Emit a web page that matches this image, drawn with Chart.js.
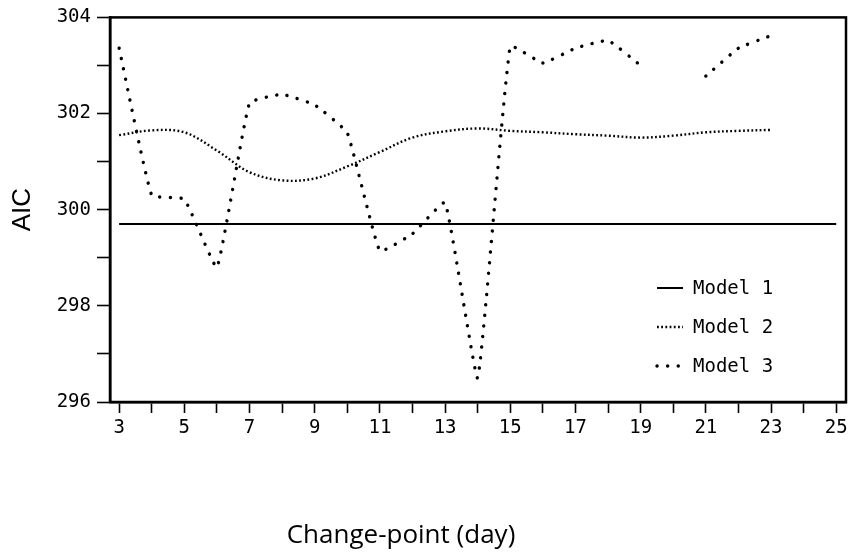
<!DOCTYPE html>
<html>
<head>
<meta charset="utf-8">
<style>
  html, body { margin: 0; padding: 0; background: #fff; }
  #wrap { width: 852px; height: 557px; }
</style>
<script src="https://cdn.jsdelivr.net/npm/chart.js@4.4.1/dist/chart.umd.min.js"></script>
</head>
<body>
<div id="wrap"><canvas id="c" width="852" height="557"></canvas></div>
<script>
// Change-point day (x) for the change-point models
const days = [3, 4, 5, 6, 7, 8, 9, 10, 11, 12, 13, 14, 15, 16, 17, 18, 19, 20, 21, 22, 23];

// Model 1 has no change point: one constant AIC over the whole range
const model1Days = [3, 25];
const model1 = [299.7, 299.7];

// AIC of Model 2 and Model 3 for each change-point day (null = not fitted)
const model2 = [301.55, 301.65, 301.61, 301.23, 300.78, 300.61, 300.65, 300.9, 301.2, 301.5, 301.63,
                301.69, 301.64, 301.61, 301.57, 301.54, 301.5, 301.54, 301.61, 301.64, 301.66];
const model3 = [303.36, 300.3, 300.22, 298.8, 302.22, 302.4, 302.18, 301.6, 299.14, 299.5, 300.15,
                296.5, 303.4, 303.05, 303.36, 303.52, 303.0, null, 302.78, 303.36, 303.62];

const seriesNames = ['Model 1', 'Model 2', 'Model 3'];
const xTitle = 'Change-point (day)';
const yTitle = 'AIC';

const tickFont = { family: "'DejaVu Sans Mono', monospace", size: 19 };

const toPoints = (xs, ys) => xs.map((x, i) => ({ x: x, y: ys[i] }));

// Box round the plot, legend inside the lower right, and the x-axis caption
const decorations = {
  id: 'decorations',
  afterDraw(chart) {
    const { ctx, chartArea: a } = chart;
    ctx.save();
    ctx.strokeStyle = '#000';
    ctx.lineWidth = 2.5;
    ctx.strokeRect(a.left, a.top, a.right - a.left, a.bottom - a.top);

    // legend
    const x0 = a.right - 189;
    const rows = [a.bottom - 114, a.bottom - 75, a.bottom - 36];
    chart.data.datasets.forEach((ds, i) => {
      const y = rows[i];
      ctx.beginPath();
      ctx.lineWidth = ds.borderWidth;
      ctx.lineCap = ds.borderCapStyle || 'butt';
      ctx.setLineDash(ds.borderDash || []);
      ctx.moveTo(x0, y);
      ctx.lineTo(x0 + 26, y);
      ctx.stroke();
      ctx.setLineDash([]);
      ctx.fillStyle = '#000';
      ctx.font = "19px 'DejaVu Sans Mono', monospace";
      ctx.textBaseline = 'middle';
      ctx.textAlign = 'left';
      ctx.fillText(ds.label, x0 + 36, y + 1);
    });

    // x-axis caption
    ctx.font = "26px 'Open Sans', 'Noto Sans', sans-serif";
    ctx.textAlign = 'center';
    ctx.textBaseline = 'alphabetic';
    ctx.fillStyle = '#000';
    ctx.fillText(xTitle, 401, chart.height - 14);
    ctx.restore();
  }
};

new Chart(document.getElementById('c'), {
  type: 'line',
  data: {
    datasets: [
      {
        label: seriesNames[0],
        data: toPoints(model1Days, model1),
        borderColor: '#000',
        borderWidth: 2,
        pointRadius: 0,
        tension: 0
      },
      {
        label: seriesNames[1],
        data: toPoints(days, model2),
        borderColor: '#000',
        borderWidth: 2.4,
        borderDash: [1.8, 2.4],
        pointRadius: 0,
        tension: 0.35
      },
      {
        label: seriesNames[2],
        data: toPoints(days, model3),
        borderColor: '#000',
        borderWidth: 3.4,
        borderDash: [0.1, 10.5],
        borderCapStyle: 'round',
        pointRadius: 0,
        tension: 0.1,
        spanGaps: false
      }
    ]
  },
  options: {
    responsive: false,
    animation: false,
    devicePixelRatio: 1,
    layout: { padding: { top: 14, right: 6, left: 0, bottom: 0 } },
    plugins: {
      legend: { display: false },
      tooltip: { enabled: false }
    },
    scales: {
      x: {
        type: 'linear',
        min: 2.72,
        max: 25.3,
        afterFit(s) { s.height = 155; },
        border: { display: true, color: '#000', width: 2.5 },
        grid: { drawOnChartArea: false, drawTicks: true, tickLength: 11, tickWidth: 1.6, tickColor: '#000' },
        ticks: {
          stepSize: 1,
          includeBounds: false,
          autoSkip: false,
          maxRotation: 0,
          padding: 4,
          color: '#000',
          font: tickFont,
          callback: v => (v % 2 === 1 ? String(v) : '')
        }
      },
      y: {
        min: 296,
        max: 304,
        afterFit(s) { s.width = 110; },
        border: { display: true, color: '#000', width: 2.5 },
        grid: { drawOnChartArea: false, drawTicks: true, tickLength: 13, tickWidth: 1.6, tickColor: '#000' },
        ticks: {
          stepSize: 1,
          padding: 6,
          color: '#000',
          font: tickFont,
          callback: v => (v % 2 === 0 ? String(v) : '')
        },
        title: {
          display: true,
          text: yTitle,
          color: '#000',
          font: { family: "'Liberation Sans', Arial, sans-serif", size: 26, lineHeight: 1.2 },
          padding: { top: 7, bottom: 0 }
        }
      }
    }
  },
  plugins: [decorations]
});
</script>
</body>
</html>
